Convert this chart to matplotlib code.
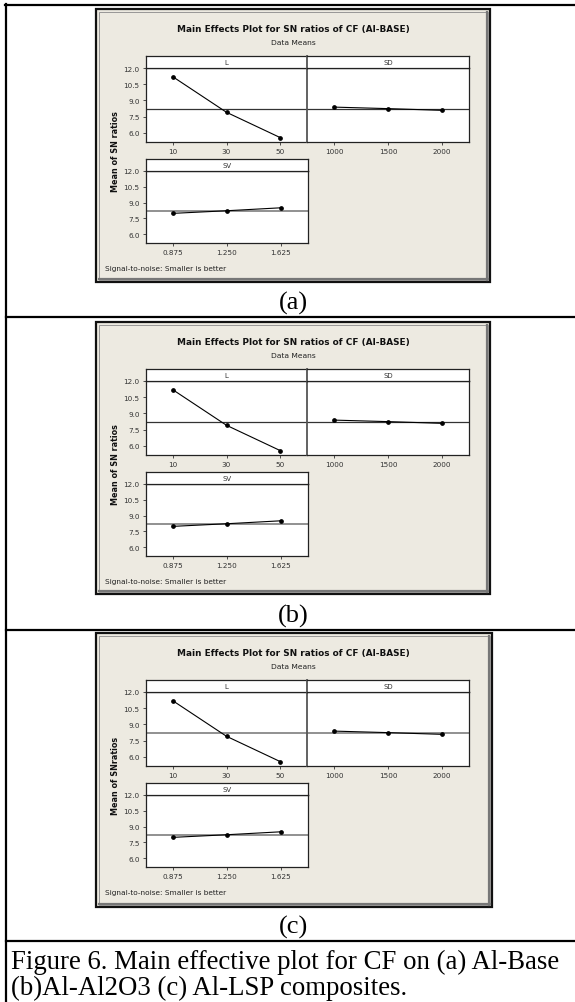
import numpy as np
import matplotlib.pyplot as plt
from matplotlib.patches import Rectangle
from matplotlib.lines import Line2D

W, H = 575, 1003

# factor levels
L_levels = ['10', '30', '50']
SD_levels = ['1000', '1500', '2000']
SV_levels = ['0.875', '1.250', '1.625']

# mean of S/N ratios at each level
L_sn = [11.19, 7.90, 5.56]
SD_sn = [8.38, 8.24, 8.08]
SV_sn = [7.97, 8.22, 8.50]

yticks = [6.0, 7.5, 9.0, 10.5, 12.0]

panel_tops = [10, 323, 634]
panel_heights = [273, 272, 274]
panel_tags = ['(a)', '(b)', '(c)']
ylabels = ['Mean of SN ratios', 'Mean of SN ratios', 'Mean of SNratios']
title = 'Main Effects Plot for SN ratios of CF (Al-BASE)'
caption = ['Figure 6. Main effective plot for CF on (a) Al-Base',
           '(b)Al-Al2O3 (c) Al-LSP composites.']

grand_mean = np.mean(L_sn + SD_sn + SV_sn)

BEIGE = '#EDEAE1'
SANS = 'DejaVu Sans'
SERIF = 'Liberation Serif'


def fx(x):
    return x / W


def fy(y):
    return 1 - y / H


def box(x0, y0, x1, y1):
    return [x0 / W, 1 - y1 / H, (x1 - x0) / W, (y1 - y0) / H]


def hline(fig, y, x0, x1, **kw):
    fig.add_artist(Line2D([fx(x0), fx(x1)], [fy(y), fy(y)], transform=fig.transFigure, **kw))


def vline(fig, x, y0, y1, **kw):
    fig.add_artist(Line2D([fx(x), fx(x)], [fy(y0), fy(y1)], transform=fig.transFigure, **kw))


def strip(fig, x0, y0, x1, y1, name):
    ax = fig.add_axes(box(x0, y0, x1, y1))
    ax.set_facecolor('white')
    ax.set_xticks([])
    ax.set_yticks([])
    for s in ax.spines.values():
        s.set_linewidth(0.9)
        s.set_color('#222222')
    ax.text(0.5, 0.5, name, ha='center', va='center', fontsize=5, family=SANS,
            color='#333333', transform=ax.transAxes)
    return ax


def effect_axes(fig, rect, levels, values, show_y, mean_color, mean_lw):
    ax = fig.add_axes(rect)
    ax.set_facecolor('white')
    x = np.arange(len(levels))
    ax.axhline(grand_mean, color=mean_color, lw=mean_lw, zorder=1)
    ax.plot(x, values, color='black', lw=0.8, marker='o', ms=2.4, zorder=2)
    ax.set_xlim(-0.5, 2.5)
    ax.set_ylim(5.15, 12.0)
    ax.set_xticks(x)
    ax.set_xticklabels(levels)
    if show_y:
        ax.set_yticks(yticks)
        ax.set_yticklabels(['%.1f' % v for v in yticks])
    else:
        ax.set_yticks([])
    ax.tick_params(labelsize=5.2, length=2.5, width=0.6, pad=2, colors='#333333')
    for lab in ax.get_xticklabels() + ax.get_yticklabels():
        lab.set_family(SANS)
    for s in ax.spines.values():
        s.set_linewidth(0.9)
        s.set_color('#222222')
    return ax


fig = plt.figure(figsize=(W / 100, H / 100), dpi=100)
fig.patch.set_facecolor('white')

for top, h, tag, ylab, k in zip(panel_tops, panel_heights, panel_tags, ylabels, range(3)):
    left, right = 96, 490 if k < 2 else 492
    bottom = top + h

    # Minitab graph window frame
    fig.add_artist(Rectangle((fx(left), fy(bottom)), (right - left) / W, h / H,
                             transform=fig.transFigure, facecolor=BEIGE,
                             edgecolor='#111111', lw=1.6, zorder=0))
    fig.add_artist(Rectangle((fx(left + 2.5), fy(bottom - 2.5)), (right - left - 5) / W, (h - 5) / H,
                             transform=fig.transFigure, facecolor='none',
                             edgecolor='#8a8a8a', lw=0.6, zorder=0))
    vline(fig, right - 3, top + 3, bottom - 2, color='#777777', lw=1.6, zorder=0)
    hline(fig, bottom - 3, left + 3, right - 2, color='#777777', lw=1.6, zorder=0)

    fig.text(fx(293), fy(top + 20), title, ha='center', va='center', fontsize=6.4,
             weight='bold', family=SANS, color='#111111')
    fig.text(fx(293), fy(top + 33), 'Data Means', ha='center', va='center', fontsize=5.4,
             family=SANS, color='#222222')

    mcol = '#333333' if k < 2 else '#888888'
    mlw = 0.9 if k < 2 else 1.3

    axL = effect_axes(fig, box(146, top + 59, 307, top + 133), L_levels, L_sn, True, mcol, mlw)
    axSD = effect_axes(fig, box(307, top + 59, 469, top + 133), SD_levels, SD_sn, False, mcol, mlw)
    axSV = effect_axes(fig, box(146, top + 162, 308, top + 234), SV_levels, SV_sn, True, '#888888', 1.3)
    axL.spines['right'].set_visible(False)
    axSD.spines['left'].set_color('#555555')
    axSD.spines['left'].set_linewidth(1.3)

    strip(fig, 146, top + 47, 307, top + 59, 'L')
    sd_strip = strip(fig, 307, top + 47, 469, top + 59, 'SD')
    sd_strip.spines['left'].set_color('#555555')
    sd_strip.spines['left'].set_linewidth(1.3)
    strip(fig, 146, top + 150, 308, top + 162, 'SV')

    fig.text(fx(115), fy(top + 142), ylab, rotation=90, ha='center', va='center',
             fontsize=5.8, weight='bold', family=SANS, color='#111111')
    fig.text(fx(105), fy(top + 259), 'Signal-to-noise: Smaller is better', ha='left',
             va='center', fontsize=5.3, family=SANS, color='#222222')

    fig.text(fx(293), fy(top + 293), tag, ha='center', va='center', fontsize=19,
             family=SERIF, color='black')

# table rules
hline(fig, 6, 5, 575, color='black', lw=1.6)
vline(fig, 6, 5, 1003, color='black', lw=1.6)
for y in [318, 631, 942]:
    hline(fig, y, 6, 575, color='black', lw=1.6)

fig.text(fx(11), fy(962), caption[0], ha='left', va='center', fontsize=19.3,
         family=SERIF, color='black')
fig.text(fx(11), fy(988), caption[1], ha='left', va='center', fontsize=19.3,
         family=SERIF, color='black')

fig.savefig('out.png', dpi=100, facecolor='white')
